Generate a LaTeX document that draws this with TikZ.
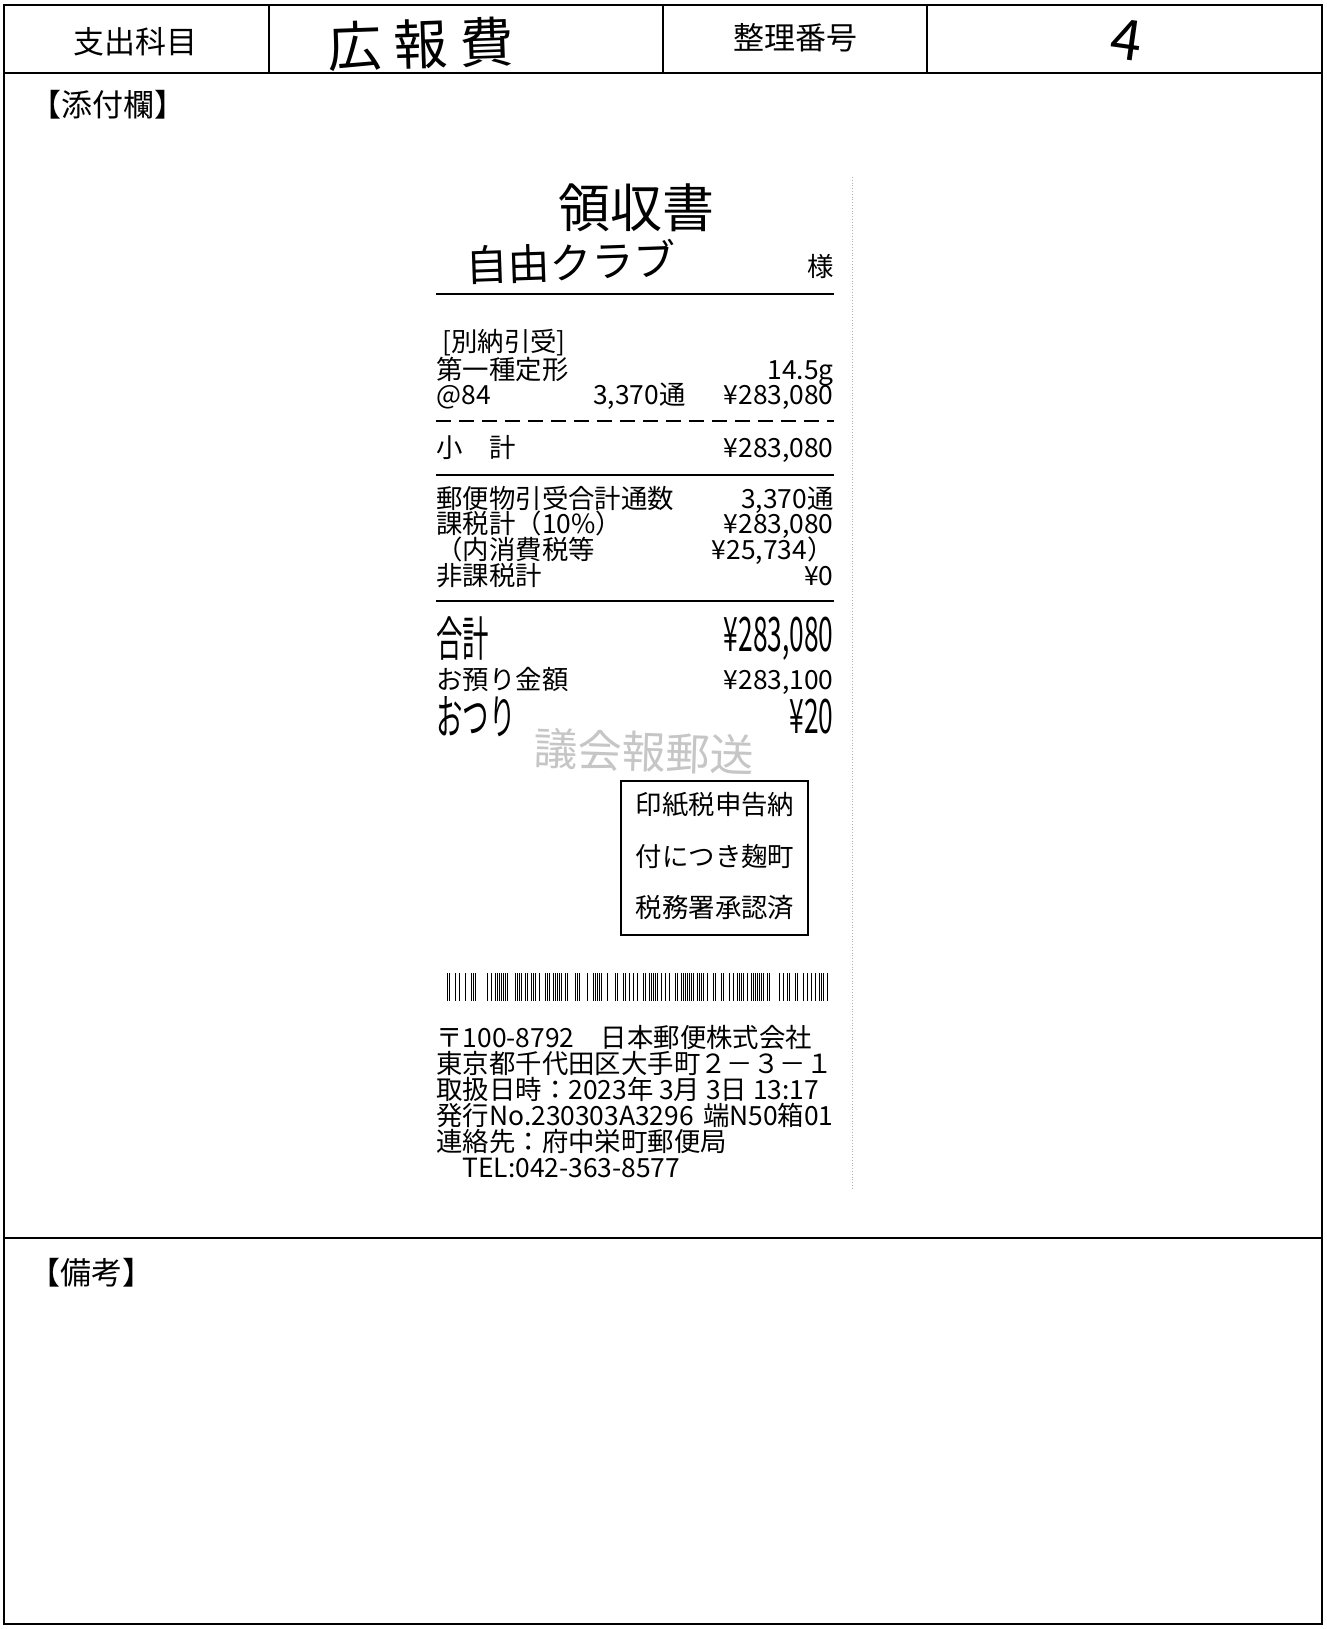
\documentclass[tikz,border=0pt]{standalone}
\usepackage{fontspec}
\setmainfont{Noto Sans CJK JP}
\usetikzlibrary{positioning}

\newcommand{\tallbox}[1]{\scalebox{1}[1.8]{#1}}

\tikzset{
	frameline/.style={line width=1.3pt},
	hdrtext/.style={font=\fontsize{15.5}{15.5}\selectfont, inner sep=0pt},
	hand/.style={font=\fontsize{#1}{#1}\selectfont, inner sep=0pt},
	rcfont/.style={font=\fontsize{13.2}{13.2}\selectfont, inner sep=0pt},
	rc/.style={rcfont, text height=10pt, text depth=1.5pt},
	rcl/.style={rc, anchor=west},
	rcr/.style={rc, anchor=east},
	talll/.style={rcfont, anchor=west},
	tallr/.style={rcfont, anchor=east},
	rcline/.style={line width=0.8pt}
}

\begin{document}
\begin{tikzpicture}[x=0.5pt, y=-0.5pt]
		\useasboundingbox (0,0) rectangle (1327,1629);
		\fill[white] (0,0) rectangle (1327,1629);
		% form frame
		\draw[frameline] (4,5) rectangle (1322,1624);
		\draw[frameline] (4,73) -- (1322,73);
		\draw[frameline] (4,1238) -- (1322,1238);
		\draw[frameline] (269,5) -- (269,73);
		\draw[frameline] (663,5) -- (663,73);
		\draw[frameline] (927,5) -- (927,73);
		\node [hdrtext] (subject) at (135,42) {支出科目};
		\node [hand=27, rotate=2] (account) at (421,44) {広\hspace{6pt}報\hspace{6pt}費};
		\node [hdrtext] (numlabel) at (795,38) {整理番号};
		\node [hand=28, rotate=-8] (number) at (1127,40) {4};
		\node [hdrtext] (attach) at (108,105) {【添付欄】};
		\node [hdrtext] (notes) at (92,1273) {【備考】};
		% receipt
		\draw[gray!60, densely dotted] (852,177) -- (852,1190);
		\node [hand=26] (title) at (636,208) {領収書};
		\node [hand=21, rotate=2] (payee) at (571,262) {自由クラブ};
		\node [rcr] (sama) at (834,268) {様};
		\draw[rcline] (436,294) -- (834,294);
		\node [rcl] (kind) at (442,343) {[別納引受]};
		\node [rcl] (item) at (436,371) {第一種定形};
		\node [rcr] (weight) at (834,371) {14.5g};
		\node [rcl] (unit) at (436,396) {@84};
		\node [rcr] (count) at (686,396) {3,370通};
		\node [rcr] (amount) at (834,396) {¥283,080};
		\draw[rcline, dash pattern=on 7.5pt off 4pt] (436,421) -- (834,421);
		\node [rcl] (sublabel) at (436,449) {小　計};
		\node [rcr] (subtotal) at (834,449) {¥283,080};
		\draw[rcline] (436,475) -- (834,475);
		\node [rcl] (totlabel) at (436,500) {郵便物引受合計通数};
		\node [rcr] (totcount) at (834,500) {3,370通};
		\node [rcl] (taxlabel) at (436,525) {課税計（10\%）};
		\node [rcr] (taxamt) at (834,525) {¥283,080};
		\node [rcl] (vatlabel) at (436,551) {（内消費税等};
		\node [rcr] (vatamt) at (834,551) {¥25,734）};
		\node [rcl] (freelabel) at (436,577) {非課税計};
		\node [rcr] (freeamt) at (834,577) {¥0};
		\draw[rcline] (436,601) -- (834,601);
		\node [talll] (sumlabel) at (436,639) {\tallbox{合計}};
		\node [tallr] (sumamt) at (834,639) {\tallbox{¥283,080}};
		\node [rcl] (paidlabel) at (436,681) {お預り金額};
		\node [rcr] (paidamt) at (834,681) {¥283,100};
		\node [talll] (changelabel) at (436,717) {\tallbox{おつり}};
		\node [tallr] (changeamt) at (834,717) {\tallbox{¥20}};
		\node [hand=22, text=gray!45, rotate=-2] (memo) at (644,752) {議会報郵送};
		% stamp box
		\draw[line width=0.7pt] (621,781) rectangle (808,935);
		\node [rc] (stamp1) at (715,806) {印紙税申告納};
		\node [rc] (stamp2) at (715,858) {付につき麹町};
		\node [rc] (stamp3) at (715,909) {税務署承認済};
		% barcode
		\pgfmathsetseed{23}
		\foreach \i in {0,...,190} {
			\pgfmathparse{rnd<0.58 ? 1 : 0}
			\ifnum\pgfmathresult=1
				\fill (447+2*\i,973) rectangle (448.4+2*\i,1001);
			\fi
		}
		\node [rcl] (addr1) at (436,1039) {〒100-8792　日本郵便株式会社};
		\node [rcl] (addr2) at (436,1065) {東京都千代田区大手町２－３－１};
		\node [rcl] (addr3) at (436,1091) {取扱日時：2023年 3月 3日 13:17};
		\node [rcl] (addr4) at (436,1117) {発行No.230303A3296};
		\node [rcr] (addr4b) at (834,1117) {端N50箱01};
		\node [rcl] (addr5) at (436,1143) {連絡先：府中栄町郵便局};
		\node [rcl] (addr6) at (462,1169) {TEL:042-363-8577};
		\end{tikzpicture}
\end{document}
